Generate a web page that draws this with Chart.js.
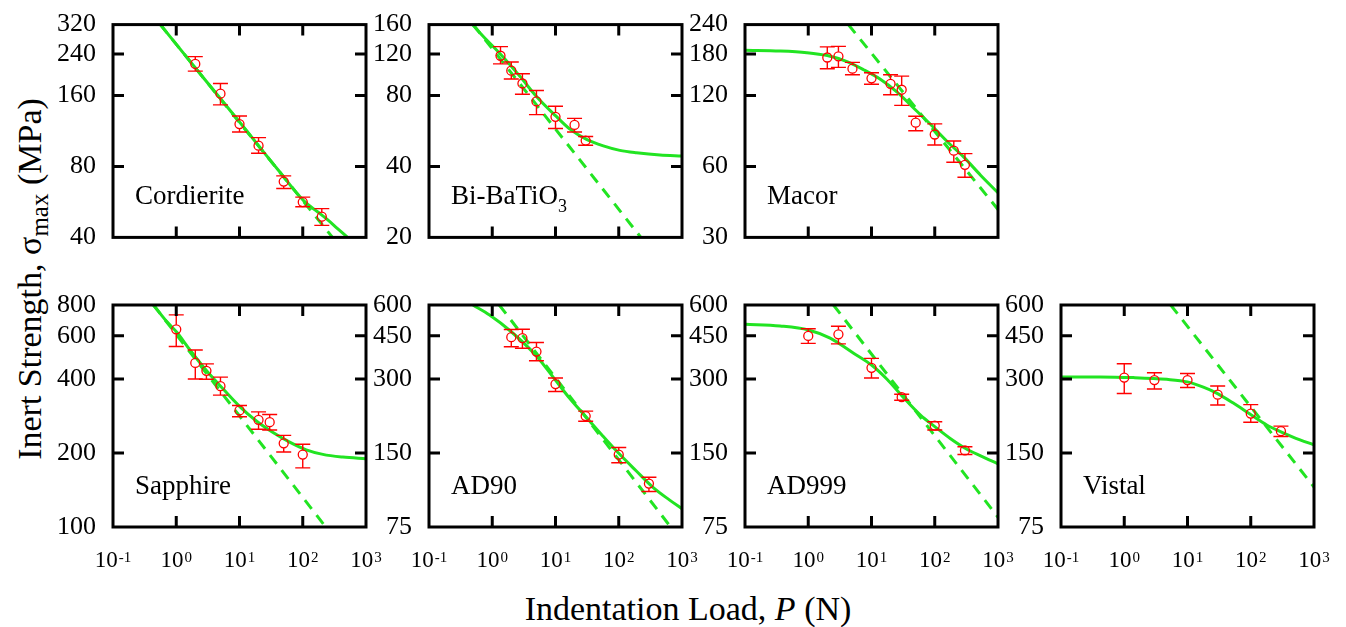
<!DOCTYPE html>
<html>
<head>
<meta charset="utf-8">
<title>Inert strength versus indentation load</title>
<script src="https://cdn.jsdelivr.net/npm/chart.js@4.4.1/dist/chart.umd.min.js"></script>
<style>
  html, body { margin: 0; padding: 0; background: #fff; }
  #stage { position: relative; width: 1346px; height: 627px; overflow: hidden;
           font-family: 'Liberation Serif', 'Times New Roman', serif; color: #000; }
  #stage canvas { position: absolute; }
  .ytitle { position: absolute; left: -220px; top: 261px; width: 500px; height: 36px;
            line-height: 36px; text-align: center; font-size: 34px; white-space: nowrap;
            transform: rotate(-90deg); transform-origin: 50% 50%; }
  .ytitle .sub { font-size: 25px; position: relative; top: 7px; }
  .xtitle { position: absolute; left: 438px; top: 591px; width: 500px; height: 36px;
            line-height: 36px; text-align: center; font-size: 34px; white-space: nowrap; }
</style>
</head>
<body>
<div id="stage">
  <div class="ytitle">Inert Strength, σ<span class="sub">max</span> (MPa)</div>
  <div class="xtitle">Indentation Load, <i>P</i> (N)</div>
</div>
<script>
// Shared load axis (N), log scale, one label per decade
const loadTicks = [0.1, 1, 10, 100, 1000];
const loadExponents = ['-1', '0', '1', '2', '3'];

// Cordierite
const cordieriteTicks = [40, 80, 160, 240, 320];
const cordieriteLoad = [2, 5, 10, 20, 50, 100, 200];
const cordieriteStrength = [218, 163, 121, 98, 69, 56.5, 49];
const cordieriteHigh = [234, 180, 131, 106, 73, 59.3, 53];
const cordieriteLow = [203, 146, 112, 91, 64.5, 54, 45];
const cordieriteFitLoad = [0.56, 2.42, 10.4, 39.7, 105, 171, 246, 355, 511];
const cordieriteFitStrength = [320, 197, 122, 78, 57, 51.4, 47.6, 43.6, 40];
const cordieriteSlopeLoad = [0.56, 296];
const cordieriteSlopeStrength = [320, 40];

// Bi-BaTiO3
const bbtTicks = [20, 40, 80, 120, 160];
const bbtLoad = [1.35, 2, 3, 5, 10, 20, 30];
const bbtStrength = [118, 102, 90, 75.5, 65, 60, 51.5];
const bbtHigh = [129, 111, 99, 84, 72, 64, 53.6];
const bbtLow = [109, 94, 81, 66.4, 58, 56, 49.2];
const bbtFitLoad = [0.485, 0.81, 1.4, 2.72, 5, 10, 16.9, 31, 57, 104, 191, 449, 1000];
const bbtFitStrength = [160, 138, 118.6, 96.7, 79.3, 65.7, 57.6, 52.1, 48.9, 46.8, 45.7, 44.7, 44.3];
const bbtSlopeLoad = [0.5, 224];
const bbtSlopeStrength = [160, 20];

// Macor
const macorTicks = [30, 60, 120, 180, 240];
const macorLoad = [2, 3, 5, 10, 20, 30, 50, 100, 200, 300];
const macorStrength = [174, 176, 156, 142, 134.5, 127, 92, 82, 70, 61];
const macorHigh = [193, 194, 166, 150, 147, 145, 98, 91, 77, 68];
const macorLow = [156, 158, 147, 134, 121, 109, 85, 74, 62.5, 54];
const macorFitLoad = [0.1, 0.36, 0.95, 2, 4.1, 7.5, 13.8, 25.4, 46.6, 85.5, 157, 288, 530, 1000];
const macorFitStrength = [186.6, 185.3, 182.4, 177.3, 167.1, 154.4, 140.6, 124, 106, 90.6, 76.6, 65.7, 55.1, 46.4];
const macorSlopeLoad = [4.3, 1000];
const macorSlopeStrength = [240, 39.4];

// Sapphire
const sapphireTicks = [100, 200, 400, 600, 800];
const sapphireLoad = [1, 2, 3, 5, 10, 20, 30, 50, 100];
const sapphireStrength = [637, 465, 432, 374, 298, 273, 267, 219, 197];
const sapphireHigh = [729, 525, 461, 407, 312, 294, 287, 236, 217];
const sapphireLow = [542, 400, 399, 344, 281, 250, 248, 202, 174];
const sapphireFitLoad = [0.436, 0.708, 1.02, 1.65, 3.02, 5.53, 10.1, 18.5, 33.9, 62.1, 113.5, 208, 430, 1000];
const sapphireFitStrength = [800, 685, 620, 525, 432, 364, 309, 270, 242.5, 221.5, 206, 197.4, 192.5, 189.5];
const sapphireSlopeLoad = [0.436, 231];
const sapphireSlopeStrength = [800, 100];

// AD90
const ad90Ticks = [75, 150, 300, 450, 600];
const ad90Load = [2, 3, 5, 10, 30, 100, 300];
const ad90Strength = [444, 440, 388, 286, 212, 147.6, 112.6];
const ad90High = [477, 478, 422, 303, 222, 158, 119.5];
const ad90Low = [406, 400, 356, 267, 202, 137, 104.6];
const ad90FitLoad = [0.495, 0.908, 2, 4.95, 9.76, 16.6, 30.5, 55.9, 96.4, 188, 344, 631, 1000];
const ad90FitStrength = [600, 546, 467, 373, 299, 251, 210, 176, 151, 127, 109, 96.7, 89];
const ad90SlopeLoad = [1.29, 662];
const ad90SlopeStrength = [600, 75];

// AD999
const ad999Ticks = [75, 150, 300, 450, 600];
const ad999Load = [1, 3, 10, 30, 100, 300];
const ad999Strength = [449, 456, 333, 253, 194, 153.7];
const ad999High = [480, 492, 364, 260, 201, 159];
const ad999Low = [419, 417, 303, 246, 186, 148];
const ad999FitLoad = [0.1, 0.359, 1.01, 2.22, 5.21, 10, 17.6, 30.4, 59.4, 99, 178, 307, 531, 1000];
const ad999FitStrength = [501, 493, 475, 440, 382, 342, 299.4, 256, 214, 192.5, 171.4, 156.4, 146, 135.6];
const ad999SlopeLoad = [2.5, 1000];
const ad999SlopeStrength = [600, 82.2];

// Vistal
const vistalTicks = [75, 150, 300, 450, 600];
const vistalLoad = [1, 3, 10, 30, 100, 300];
const vistalStrength = [304, 297, 297, 259, 217, 184];
const vistalHigh = [346, 318, 316, 281, 236, 193];
const vistalLow = [262, 273, 277, 235, 200, 175];
const vistalFitLoad = [0.1, 0.414, 1.39, 4.69, 9.94, 17.8, 28.9, 53, 97, 179, 300, 601, 1000];
const vistalFitStrength = [306, 306, 304, 299, 292, 278, 263, 239.4, 216, 195, 183, 169.6, 162];
const vistalSlopeLoad = [5.42, 1000];
const vistalSlopeStrength = [600, 109];

const GREEN = 'rgb(34,228,34)';
const RED = '#ff0000';
const SERIF = '"Liberation Serif", "Times New Roman", serif';

// Grid geometry of the panels (plot areas)
const colLeft = [113, 429, 745, 1061];
const rowTop = [21, 305];
const rowHeight = [221, 222];
const plotWidth = 253;
const axisRoom = 70;      // space left of each plot for the strength labels
const canvasWidth = 348;
const canvasTop = [0, 280];
const canvasHeight = [262, 300];

const panels = [
  { label: 'Cordierite', sub: '', row: 0, col: 0, ticks: cordieriteTicks, load: cordieriteLoad,
    strength: cordieriteStrength, high: cordieriteHigh, low: cordieriteLow,
    fitLoad: cordieriteFitLoad, fitStrength: cordieriteFitStrength,
    slopeLoad: cordieriteSlopeLoad, slopeStrength: cordieriteSlopeStrength },
  { label: 'Bi-BaTiO', sub: '3', row: 0, col: 1, ticks: bbtTicks, load: bbtLoad,
    strength: bbtStrength, high: bbtHigh, low: bbtLow,
    fitLoad: bbtFitLoad, fitStrength: bbtFitStrength,
    slopeLoad: bbtSlopeLoad, slopeStrength: bbtSlopeStrength },
  { label: 'Macor', sub: '', row: 0, col: 2, ticks: macorTicks, load: macorLoad,
    strength: macorStrength, high: macorHigh, low: macorLow,
    fitLoad: macorFitLoad, fitStrength: macorFitStrength,
    slopeLoad: macorSlopeLoad, slopeStrength: macorSlopeStrength },
  { label: 'Sapphire', sub: '', row: 1, col: 0, ticks: sapphireTicks, load: sapphireLoad,
    strength: sapphireStrength, high: sapphireHigh, low: sapphireLow,
    fitLoad: sapphireFitLoad, fitStrength: sapphireFitStrength,
    slopeLoad: sapphireSlopeLoad, slopeStrength: sapphireSlopeStrength },
  { label: 'AD90', sub: '', row: 1, col: 1, ticks: ad90Ticks, load: ad90Load,
    strength: ad90Strength, high: ad90High, low: ad90Low,
    fitLoad: ad90FitLoad, fitStrength: ad90FitStrength,
    slopeLoad: ad90SlopeLoad, slopeStrength: ad90SlopeStrength },
  { label: 'AD999', sub: '', row: 1, col: 2, ticks: ad999Ticks, load: ad999Load,
    strength: ad999Strength, high: ad999High, low: ad999Low,
    fitLoad: ad999FitLoad, fitStrength: ad999FitStrength,
    slopeLoad: ad999SlopeLoad, slopeStrength: ad999SlopeStrength },
  { label: 'Vistal', sub: '', row: 1, col: 3, ticks: vistalTicks, load: vistalLoad,
    strength: vistalStrength, high: vistalHigh, low: vistalLow,
    fitLoad: vistalFitLoad, fitStrength: vistalFitStrength,
    slopeLoad: vistalSlopeLoad, slopeStrength: vistalSlopeStrength }
];

const toPoints = (xs, ys) => xs.map((x, i) => ({ x: x, y: ys[i] }));

// Frame, inward ticks, error bars, panel name and decade labels
const panelDecor = {
  id: 'panelDecor',
  afterDatasetsDraw(chart, args, opts) {
    const p = opts.panel;
    const ctx = chart.ctx, xs = chart.scales.x, ys = chart.scales.y;
    const r = 4.5, cap = 7.5;
    ctx.save();
    ctx.strokeStyle = RED;
    ctx.lineWidth = 1.4;
    p.load.forEach((v, i) => {
      const x = xs.getPixelForValue(v);
      const yc = ys.getPixelForValue(p.strength[i]);
      const yt = ys.getPixelForValue(p.high[i]);
      const yb = ys.getPixelForValue(p.low[i]);
      ctx.beginPath();
      if (yt < yc - r) { ctx.moveTo(x, yt); ctx.lineTo(x, yc - r); }
      if (yb > yc + r) { ctx.moveTo(x, yc + r); ctx.lineTo(x, yb); }
      ctx.moveTo(x - cap, yt); ctx.lineTo(x + cap, yt);
      ctx.moveTo(x - cap, yb); ctx.lineTo(x + cap, yb);
      ctx.stroke();
    });
    ctx.restore();
  },
  afterDraw(chart, args, opts) {
    const p = opts.panel;
    const ctx = chart.ctx, a = chart.chartArea, xs = chart.scales.x, ys = chart.scales.y;
    const tl = 11;
    ctx.save();
    ctx.strokeStyle = '#000';
    ctx.lineWidth = 3;
    ctx.lineCap = 'butt';
    ctx.beginPath();
    loadTicks.slice(1, -1).forEach(v => {
      const x = xs.getPixelForValue(v);
      ctx.moveTo(x, a.bottom); ctx.lineTo(x, a.bottom - tl);
      ctx.moveTo(x, a.top); ctx.lineTo(x, a.top + tl);
    });
    p.ticks.slice(1, -1).forEach(v => {
      const y = ys.getPixelForValue(v);
      ctx.moveTo(a.left, y); ctx.lineTo(a.left + tl, y);
      ctx.moveTo(a.right, y); ctx.lineTo(a.right - tl, y);
    });
    ctx.stroke();
    ctx.strokeRect(a.left, a.top, a.right - a.left, a.bottom - a.top);

    // material name
    ctx.fillStyle = '#000';
    ctx.textBaseline = 'alphabetic';
    ctx.textAlign = 'left';
    ctx.font = '27px ' + SERIF;
    const lx = a.left + 22, ly = a.bottom - 33;
    ctx.fillText(p.label, lx, ly);
    if (p.sub) {
      const w = ctx.measureText(p.label).width;
      ctx.font = '18px ' + SERIF;
      ctx.fillText(p.sub, lx + w, ly + 8);
    }

    // decade labels under the lower row
    if (p.row === 1) {
      loadTicks.forEach((v, i) => {
        const x = xs.getPixelForValue(v);
        ctx.font = '23px ' + SERIF;
        const wb = ctx.measureText('10').width;
        ctx.font = '15px ' + SERIF;
        const we = ctx.measureText(loadExponents[i]).width;
        const x0 = x - (wb + 1 + we) / 2;
        ctx.font = '23px ' + SERIF;
        ctx.fillText('10', x0, a.bottom + 40);
        ctx.font = '15px ' + SERIF;
        ctx.fillText(loadExponents[i], x0 + wb + 1, a.bottom + 34.5);
      });
    }
    ctx.restore();
  }
};

function buildPanels() {
  Chart.defaults.font.family = SERIF;
  Chart.defaults.color = '#000';
  const stage = document.getElementById('stage');
  panels.forEach(p => {
    const cv = document.createElement('canvas');
    const left = colLeft[p.col] - axisRoom;
    const top = canvasTop[p.row];
    const h = canvasHeight[p.row];
    cv.width = canvasWidth; cv.height = h;
    cv.style.left = left + 'px'; cv.style.top = top + 'px';
    cv.style.width = canvasWidth + 'px'; cv.style.height = h + 'px';
    stage.appendChild(cv);

    const padTop = rowTop[p.row] - top;
    const padBottom = h - padTop - rowHeight[p.row];
    const padRight = canvasWidth - axisRoom - plotWidth;

    new Chart(cv, {
      type: 'scatter',
      data: {
        datasets: [
          { type: 'scatter', data: toPoints(p.load, p.strength), pointRadius: 4.5, pointBorderWidth: 1.3,
            borderColor: RED, backgroundColor: 'rgba(0,0,0,0)', pointHoverRadius: 4.5 },
          { type: 'line', data: toPoints(p.fitLoad, p.fitStrength), borderColor: GREEN, borderWidth: 3,
            pointRadius: 0, fill: false, cubicInterpolationMode: 'monotone' },
          { type: 'line', data: toPoints(p.slopeLoad, p.slopeStrength), borderColor: GREEN, borderWidth: 3,
            borderDash: [11, 8], pointRadius: 0, fill: false }
        ]
      },
      options: {
        responsive: false,
        animation: false,
        devicePixelRatio: 1,
        events: [],
        layout: { padding: { left: axisRoom - 60, top: padTop, right: padRight, bottom: padBottom } },
        plugins: { legend: { display: false }, tooltip: { enabled: false }, panelDecor: { panel: p } },
        scales: {
          x: { type: 'logarithmic', min: loadTicks[0], max: loadTicks[loadTicks.length - 1], display: false },
          y: {
            type: 'logarithmic', min: p.ticks[0], max: p.ticks[p.ticks.length - 1],
            afterBuildTicks: s => { s.ticks = p.ticks.map(v => ({ value: v })); },
            afterFit: s => { s.width = 60; },
            grid: { display: false }, border: { display: false },
            ticks: { autoSkip: false, padding: 9, font: { size: 26, family: SERIF }, color: '#000',
                     callback: v => String(v) }
          }
        }
      },
      plugins: [panelDecor]
    });
  });
}

// Make sure the serif face is resolved before the canvases paint their text
Promise.all([
  document.fonts.load('27px "Liberation Serif"'),
  document.fonts.load('italic 27px "Liberation Serif"')
]).catch(() => null).then(() => document.fonts.ready).then(buildPanels, buildPanels);
</script>
</body>
</html>
